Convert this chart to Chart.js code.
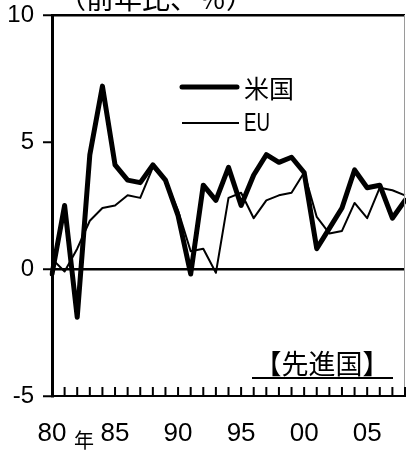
<!DOCTYPE html>
<html>
<head>
<meta charset="utf-8">
<script src="https://cdn.jsdelivr.net/npm/chart.js@4/dist/chart.umd.min.js"></script>
<style>
  html, body { margin: 0; padding: 0; background: #fff; }
  #wrap { width: 406px; height: 450px; }
</style>
</head>
<body>
<div id="wrap"><canvas id="c" width="406" height="450"></canvas></div>
<script>
// Real GDP growth, year on year (%)
const years = [1980, 1981, 1982, 1983, 1984, 1985, 1986, 1987, 1988, 1989,
               1990, 1991, 1992, 1993, 1994, 1995, 1996, 1997, 1998, 1999,
               2000, 2001, 2002, 2003, 2004, 2005, 2006, 2007, 2008];
const usGrowth = [-0.2, 2.5, -1.9, 4.5, 7.2, 4.1, 3.5, 3.4, 4.1, 3.5,
                  2.1, -0.2, 3.3, 2.7, 4.0, 2.5, 3.7, 4.5, 4.2, 4.4,
                  3.8, 0.8, 1.6, 2.4, 3.9, 3.2, 3.3, 2.0, 2.7];
const euGrowth = [0.4, -0.1, 0.8, 1.9, 2.4, 2.5, 2.9, 2.8, 4.0, 3.5,
                  2.3, 0.7, 0.8, -0.15, 2.8, 3.0, 2.0, 2.7, 2.9, 3.0,
                  3.8, 2.05, 1.4, 1.5, 2.6, 2.0, 3.2, 3.1, 2.9];
const yTicks = [-5, 0, 5, 10];
const seriesNames = ['米国', 'EU'];
const unitLabel = '（前年比、％）';
const yearMark = '年';
const regionLabel = '【先進国】';

const SANS = '"Liberation Sans", Arial, sans-serif';
const CJK = '"Noto Sans CJK JP", "Noto Sans CJK SC", sans-serif';

// keep the plot box fixed: no extra room reserved for edge labels
const noPad = s => { s.paddingLeft = 0; s.paddingRight = 0; s.paddingTop = 0; s.paddingBottom = 0; };

const decor = {
  id: 'decor',
  afterDraw(chart) {
    const { ctx, chartArea: a, scales } = chart;
    const xs = scales.x;
    ctx.save();
    // right frame edge
    ctx.strokeStyle = '#9a9a9a';
    ctx.lineWidth = 1;
    ctx.beginPath();
    ctx.moveTo(a.right - 0.5, a.top);
    ctx.lineTo(a.right - 0.5, a.bottom);
    ctx.stroke();
    // yearly tick marks pointing into the plot
    ctx.strokeStyle = '#000';
    ctx.lineWidth = 2;
    ctx.beginPath();
    years.forEach((y, i) => {
      const px = xs.getPixelForValue(i);
      ctx.moveTo(px, a.bottom);
      ctx.lineTo(px, a.bottom - 9);
    });
    ctx.stroke();

    // legend
    ctx.lineCap = 'round';
    ctx.lineWidth = 5;
    ctx.beginPath();
    ctx.moveTo(182, 87); ctx.lineTo(237, 87);
    ctx.stroke();
    ctx.lineCap = 'butt';
    ctx.lineWidth = 2;
    ctx.beginPath();
    ctx.moveTo(182, 123); ctx.lineTo(239, 123);
    ctx.stroke();
    ctx.fillStyle = '#000';
    ctx.textBaseline = 'middle';
    ctx.textAlign = 'left';
    ctx.font = '25px ' + CJK;
    ctx.fillText(seriesNames[0], 244, 88);
    ctx.save();
    ctx.translate(244, 124);
    ctx.scale(0.78, 1.05);
    ctx.font = '24px ' + SANS;
    ctx.fillText(seriesNames[1], 0, 0);
    ctx.restore();

    // unit caption, mostly above the canvas
    ctx.font = '28px ' + CJK;
    ctx.textBaseline = 'alphabetic';
    ctx.fillText(unitLabel, 58, 9);

    // year mark under the axis
    ctx.font = '20px ' + CJK;
    ctx.textAlign = 'center';
    ctx.textBaseline = 'middle';
    ctx.fillText(yearMark, 84, 440);

    // region caption with underline
    ctx.font = '27px ' + CJK;
    ctx.fillText(regionLabel, 322, 364);
    ctx.lineWidth = 2;
    ctx.beginPath();
    ctx.moveTo(252, 378); ctx.lineTo(393, 378);
    ctx.stroke();
    ctx.restore();
  }
};

new Chart(document.getElementById('c'), {
  type: 'line',
  data: {
    labels: years.map(String),
    datasets: [
      {
        label: seriesNames[1],
        data: euGrowth,
        borderColor: '#000',
        borderWidth: 2,
        pointRadius: 0,
        tension: 0,
        borderJoinStyle: 'round',
        fill: false
      },
      {
        label: seriesNames[0],
        data: usGrowth,
        borderColor: '#000',
        borderWidth: 5,
        pointRadius: 0,
        tension: 0,
        borderJoinStyle: 'round',
        borderCapStyle: 'round',
        fill: false
      }
    ]
  },
  options: {
    responsive: false,
    animation: false,
    devicePixelRatio: 1,
    layout: { padding: { top: 15, right: 1, left: 0, bottom: 0 } },
    plugins: { legend: { display: false }, tooltip: { enabled: false } },
    scales: {
      x: {
        type: 'category',
        offset: false,
        grid: { display: false, drawTicks: false },
        border: { display: true, color: '#000', width: 2 },
        ticks: {
          autoSkip: false,
          maxRotation: 0,
          minRotation: 0,
          padding: 22,
          color: '#000',
          font: { family: SANS, size: 26 },
          callback: (v, i) => (years[i] % 5 === 0 ? String(years[i]).slice(2) : '')
        },
        afterFit: s => { s.height = 54; noPad(s); }
      },
      y: {
        min: yTicks[0],
        max: yTicks[yTicks.length - 1],
        afterBuildTicks: s => { s.ticks = yTicks.map(v => ({ value: v })); },
        grid: {
          drawOnChartArea: true,
          drawTicks: true,
          tickLength: 9,
          tickColor: '#000',
          tickWidth: 2,
          lineWidth: 2.5,
          color: c => (c.tick && (c.tick.value === 0 || c.tick.value === 10) ? '#000' : 'rgba(0,0,0,0)')
        },
        border: { display: true, color: '#000', width: 3 },
        ticks: {
          padding: 9,
          color: '#000',
          font: { family: SANS, size: 24 }
        },
        afterFit: s => { s.width = 52; noPad(s); }
      }
    }
  },
  plugins: [decor]
});
</script>
</body>
</html>
